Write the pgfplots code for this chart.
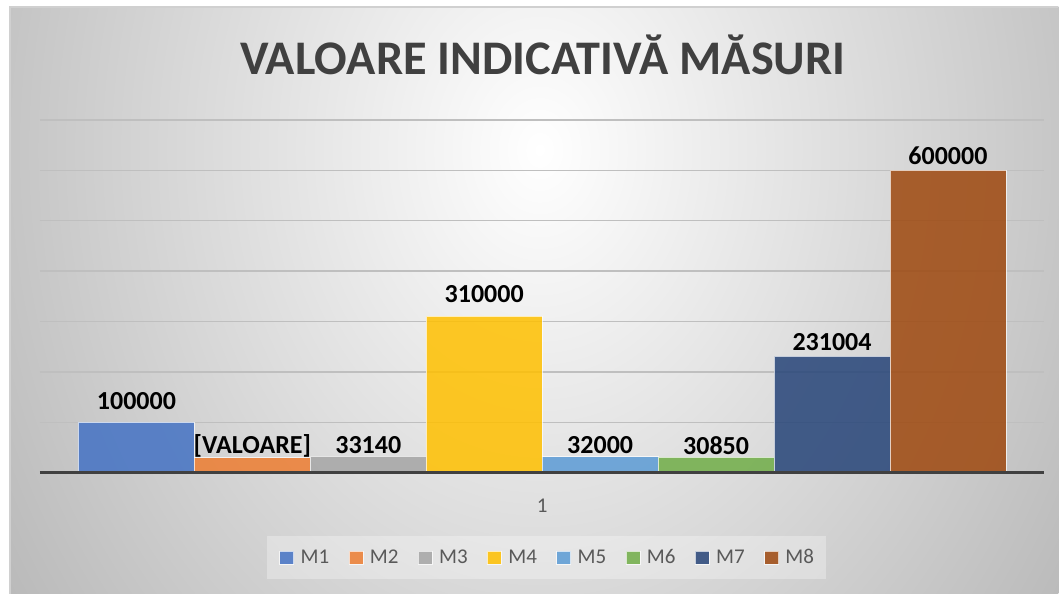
\documentclass[border=0pt]{standalone}
\usepackage{pgfplots}
\pgfplotsset{compat=1.18}
\usepackage{fontspec}
\setmainfont{Carlito}
\definecolor{c1}{HTML}{4472C4}
\definecolor{c2}{HTML}{ED7D31}
\definecolor{c3}{HTML}{A5A5A5}
\definecolor{c4}{HTML}{FFC000}
\definecolor{c5}{HTML}{5B9BD5}
\definecolor{c6}{HTML}{70AD47}
\definecolor{c7}{HTML}{264478}
\definecolor{c8}{HTML}{9E480E}
\definecolor{bgouter}{HTML}{B3B3B3}
\definecolor{bordergray}{HTML}{D0D0D0}
\definecolor{titlegray}{HTML}{404040}
\definecolor{labelgray}{HTML}{595959}
\definecolor{gridgray}{HTML}{BFBFBF}
\definecolor{axisgray}{HTML}{404040}
\begin{document}
\begin{tikzpicture}[x=1pt,y=1pt]
\fill[white] (-40,473) rectangle (1019,-121);
\begin{scope}
\clip (-30,466) rectangle (1019,-121);
\fill[bgouter] (-30,466) rectangle (1019,-121);
\shade[inner color=white, outer color=bgouter] (500,323) ellipse (700 and 882);
\end{scope}
\draw[color=bordergray, line width=1.2pt] (1019,466) -- (-30,466) -- (-30,-121);
\node[anchor=base, font=\fontsize{48.3}{58}\selectfont\bfseries, text=titlegray, inner sep=0pt] at (503,398) {VALOARE INDICATIVĂ MĂSURI};
\begin{axis}[
  at={(0,0)}, anchor=south west,
  scale only axis, width=1005pt, height=353pt,
  xmin=0, xmax=1, ymin=0, ymax=700000,
  ybar=0pt, bar width=116pt,
  xtick={0.5}, xticklabels={1},
  ytick={100000,200000,300000,400000,500000,600000,700000}, yticklabels={},
  scaled ticks=false,
  ymajorgrids, grid style={color=gridgray, line width=1.3pt},
  axis line style={draw=none}, tick style={draw=none},
  xticklabel style={font=\fontsize{21}{25}\selectfont, text=labelgray, inner sep=0pt, yshift=-22pt},
  clip=false,
  point meta=explicit symbolic,
  nodes near coords,
  every node near coord/.append style={font=\fontsize{26}{30}\selectfont\bfseries, text=black, anchor=base, inner sep=0pt, text opacity=1, fill opacity=1},
  every axis plot/.append style={draw=white, draw opacity=0.7, line width=0.7pt, fill opacity=0.85},
  legend columns=8,
  legend image code/.code={\draw[#1] (0pt,-6.6pt) rectangle (14pt,6.6pt);},
  legend style={at={(axis description cs:0.5045,-0.2408)}, anchor=center, draw=none, fill=white, fill opacity=0.3,
    font=\fontsize{21}{25}\selectfont, text=labelgray, text opacity=1,
    inner xsep=12pt, inner ysep=14pt,
    /tikz/every odd column/.append style={column sep=6.6pt},
    /tikz/every even column/.append style={column sep=19.4pt, text height=13.6pt, text depth=0pt},
    nodes={inner xsep=0pt, inner ysep=0pt}},
]
\addplot[fill=c1, every node near coord/.append style={yshift=13pt}] coordinates {(0.5,100000) [100000]};
\addplot[fill=c2, nodes near coords={\lbrack VALOARE\rbrack}, every node near coord/.append style={yshift=4pt}] coordinates {(0.5,30000) [x]};
\addplot[fill=c3, every node near coord/.append style={yshift=3pt}] coordinates {(0.5,33140) [33140]};
\addplot[fill=c4, every node near coord/.append style={yshift=14pt}] coordinates {(0.5,310000) [310000]};
\addplot[fill=c5, every node near coord/.append style={yshift=3pt}] coordinates {(0.5,32000) [32000]};
\addplot[fill=c6, every node near coord/.append style={yshift=3pt}] coordinates {(0.5,30850) [30850]};
\addplot[fill=c7, every node near coord/.append style={yshift=5.5pt}] coordinates {(0.5,231004) [231004]};
\addplot[fill=c8, every node near coord/.append style={yshift=5.5pt}] coordinates {(0.5,600000) [600000]};
\legend{M1,M2,M3,M4,M5,M6,M7,M8}
\draw[line width=3pt, color=axisgray] (rel axis cs:0,0) -- (rel axis cs:1,0);
\end{axis}
\end{tikzpicture}
\end{document}
